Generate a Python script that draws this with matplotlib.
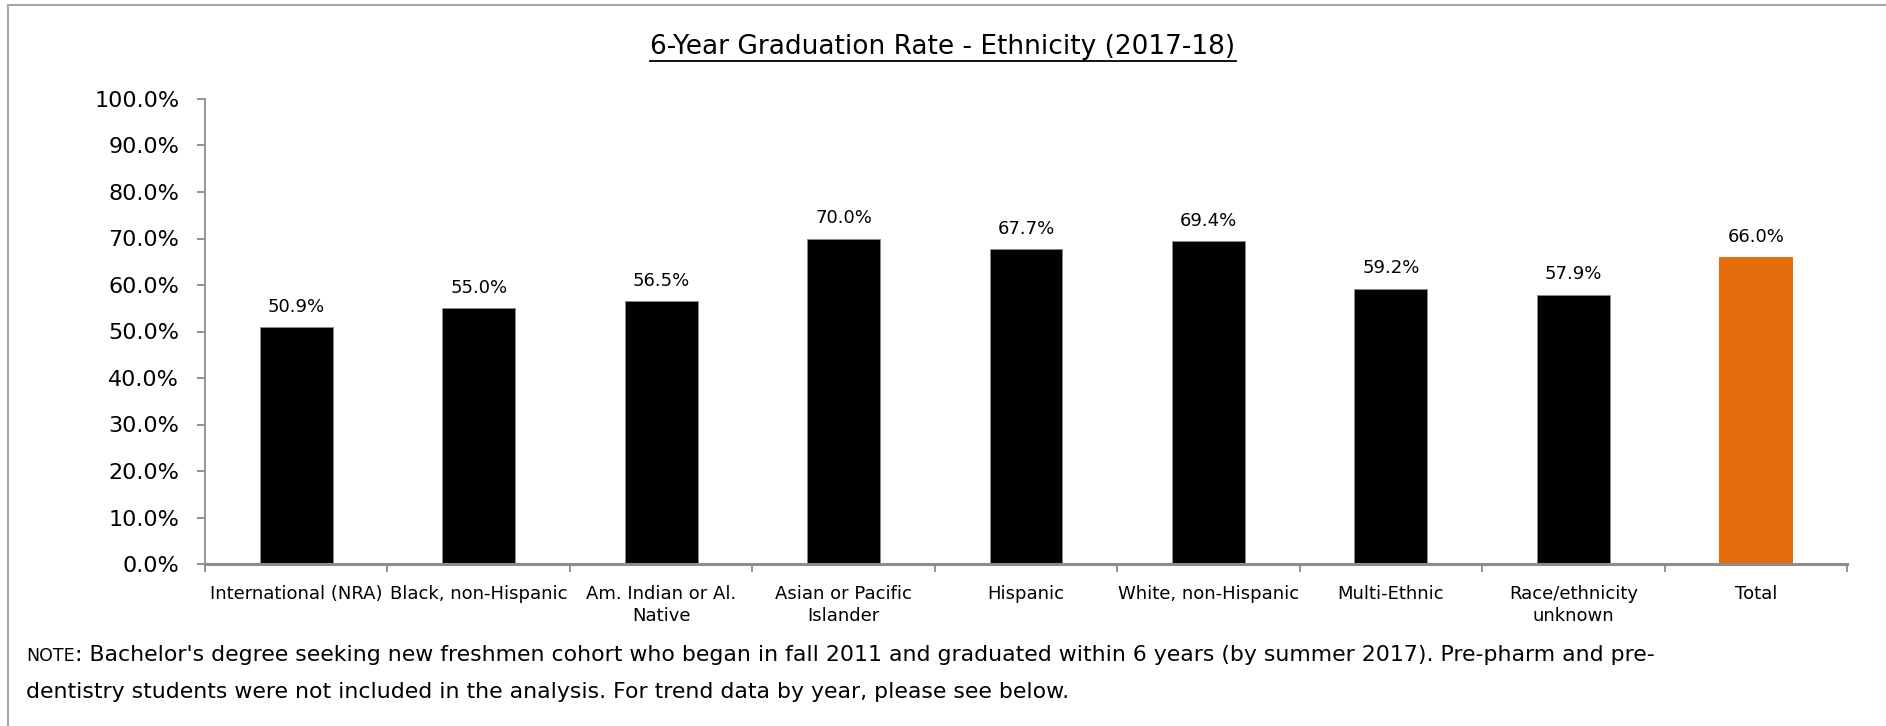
import matplotlib
matplotlib.use("Agg")
import matplotlib.pyplot as plt
from matplotlib.lines import Line2D
from matplotlib.patches import Rectangle
import numpy as np

# data
groups = ["International (NRA)", "Black, non-Hispanic", "Am. Indian or Al.\nNative",
          "Asian or Pacific\nIslander", "Hispanic", "White, non-Hispanic",
          "Multi-Ethnic", "Race/ethnicity\nunknown", "Total"]
rates = [50.9, 55.0, 56.5, 70.0, 67.7, 69.4, 59.2, 57.9, 66.0]
yticks = [0, 10, 20, 30, 40, 50, 60, 70, 80, 90, 100]

title = "6-Year Graduation Rate - Ethnicity (2017-18)"
note1 = (": Bachelor's degree seeking new freshmen cohort who began in fall 2011 and "
         "graduated within 6 years (by summer 2017). Pre-pharm and pre-")
note2 = "dentistry students were not included in the analysis. For trend data by year, please see below."

W, H = 1886, 726
plt.rcParams['font.family'] = ['DejaVu Sans']
fig = plt.figure(figsize=(W / 100, H / 100), dpi=100)
ax = fig.add_axes([205 / W, 1 - 564 / H, (1847 - 205) / W, (564 - 99) / H])

colors = ['black'] * (len(rates) - 1) + ['#E46C0A']
edges = ['#8a8a8a'] * (len(rates) - 1) + ['#E46C0A']
x = np.arange(len(rates))
ax.bar(x, rates, width=0.4, color=colors, edgecolor=edges, linewidth=0.7)
for xi, v in zip(x, rates):
    ax.annotate("%.1f%%" % v, (xi, v), xytext=(0, 11), textcoords='offset points',
                ha='center', va='baseline', fontsize=13)

ax.set_xlim(-0.5, len(rates) - 0.5)
ax.set_ylim(0, 100)
ax.set_yticks(yticks)
ax.set_yticklabels(["%.1f%%" % t for t in yticks], fontsize=16)
ax.set_xticks(x)
ax.set_xticklabels(groups, fontsize=13, linespacing=1.3)
ax.set_xticks(np.arange(len(rates) + 1) - 0.5, minor=True)
ax.tick_params(axis='x', which='major', length=0, pad=15)
ax.tick_params(axis='x', which='minor', length=6, color='#808080', width=1.2)
ax.tick_params(axis='y', length=6, color='#808080', width=1.2, pad=12.5)

for s in ['top', 'right']:
    ax.spines[s].set_visible(False)
ax.spines['left'].set_color('#8c8c8c')
ax.spines['left'].set_linewidth(1.3)
ax.spines['bottom'].set_color('#8c8c8c')
ax.spines['bottom'].set_linewidth(2.2)

# title with underline
t = fig.text(943 / W, 1 - 54 / H, title, ha='center', va='baseline', fontsize=19)
r = fig.canvas.get_renderer()
bb = t.get_window_extent(r)
fig.add_artist(Line2D([bb.x0 / W, bb.x1 / W], [1 - 61 / H, 1 - 61 / H],
                      transform=fig.transFigure, color='black', lw=1.3))

# note text, "NOTE" in small caps
n = fig.text(26 / W, 1 - 661 / H, "NOTE", ha='left', va='baseline', fontsize=12.5)
nb = n.get_window_extent(r)
fig.text(nb.x1 / W, 1 - 661 / H, note1, ha='left', va='baseline', fontsize=15.8)
fig.text(26 / W, 1 - 698 / H, note2, ha='left', va='baseline', fontsize=15.8)

# outer frame
fig.add_artist(Rectangle((8 / W, -0.1), 1.2, 1 - 5 / H + 0.1, transform=fig.transFigure,
                         fill=False, edgecolor='#a6a6a6', lw=1.5))

plt.savefig('out.png', dpi=100)
